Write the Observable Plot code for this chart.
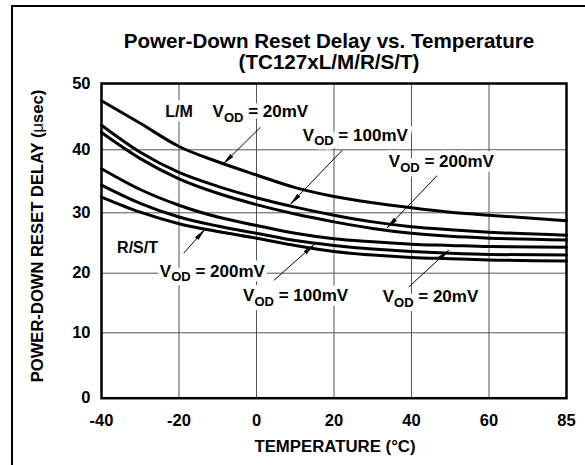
<!DOCTYPE html>
<html>
<head>
<meta charset="utf-8">
<script src="https://cdn.jsdelivr.net/npm/d3@7"></script>
<script src="https://cdn.jsdelivr.net/npm/@observablehq/plot@0.6"></script>
<style>
  body { margin: 0; background: #fff; }
  #wrap { position: relative; width: 585px; height: 465px; overflow: hidden;
          font-family: "Liberation Sans", Arial, Helvetica, sans-serif; color: #000; }
  #border { position: absolute; left: 11px; top: 5px; width: 700px; height: 600px;
            border-top: 2.5px solid #000; border-left: 2.5px solid #000; }
  #chart { position: absolute; left: 0; top: 0; }
  #title { position: absolute; left: 80px; width: 500px; top: 30px; text-align: center; margin-left: -1px;
           font-weight: bold; font-size: 20.6px; line-height: 21px; }
  #ylab { position: absolute; left: 38px; top: 236px; transform: translate(-50%, -50%) rotate(-90deg);
          white-space: nowrap; font-weight: bold; font-size: 16.6px; line-height: 16px; }
  #xlab { position: absolute; left: 335px; top: 447px; transform: translate(-50%, -50%);
          white-space: nowrap; font-weight: bold; font-size: 16.8px; line-height: 16px; }
</style>
</head>
<body>
<div id="wrap">
  <div id="border"></div>
  <div id="chart"></div>
  <div id="title">Power-Down Reset Delay vs. Temperature<br>(TC127xL/M/R/S/T)</div>
  <div id="ylab">POWER-DOWN RESET DELAY (<span style="font-weight:normal">μ</span>sec)</div>
  <div id="xlab">TEMPERATURE (°C)</div>
</div>
<script>
// ---- data ----
const temps = [-40, -30, -20, -10, 0, 10, 20, 30, 40, 50, 60, 85];
const lm20   = [47.4, 44.0, 40.5, 38.1, 36.0, 34.0, 32.6, 31.6, 30.8, 30.1, 29.6, 28.7];
const lm100  = [43.7, 39.6, 36.4, 34.2, 32.4, 30.9, 29.6, 28.5, 27.7, 27.2, 26.8, 26.3];
const lm200  = [42.6, 38.6, 35.4, 33.1, 31.3, 29.8, 28.5, 27.4, 26.6, 26.1, 25.8, 25.5];
const rst20  = [37.0, 33.7, 31.2, 29.3, 27.9, 26.6, 25.7, 25.2, 24.8, 24.6, 24.4, 24.3];
const rst100 = [34.4, 31.5, 29.3, 27.8, 26.6, 25.4, 24.6, 24.0, 23.6, 23.3, 23.1, 23.0];
const rst200 = [32.5, 30.1, 28.2, 26.9, 25.8, 24.6, 23.6, 23.0, 22.6, 22.4, 22.2, 22.0];
const seriesNames = ["L/M 20mV", "L/M 100mV", "L/M 200mV", "R/S/T 20mV", "R/S/T 100mV", "R/S/T 200mV"];
const seriesValues = [lm20, lm100, lm200, rst20, rst100, rst200];

const xTicks = [-40, -20, 0, 20, 40, 60, 85];
const yTicks = [0, 10, 20, 30, 40, 50];

// annotation labels (data coordinates, baseline)
const groupText = ["L/M", "R/S/T"];
const groupX = [-20, -30.7];
const groupY = [44.9, 23.4];
const vodText = ["VOD = 20mV", "VOD = 100mV", "VOD = 200mV", "VOD = 200mV", "VOD = 100mV", "VOD = 20mV"];
const vodX = [1.0, 25.5, 47.7, -11.4, 10.1, 44.9];
const vodY = [44.9, 41.4, 37.2, 19.4, 15.3, 15.1];
// arrows (from label to curve)
const arrowX1 = [1.0, 22.1, 46.6, -18.8, 4.5, 39.3];
const arrowY1 = [43.4, 39.9, 35.9, 23.3, 18.8, 17.7];
const arrowX2 = [-8.5, 8.8, 33.7, -13.4, 14.8, 49.6];
const arrowY2 = [37.8, 31.4, 27.5, 27.2, 24.7, 23.8];

// ---- build tables ----
const rows = [];
seriesValues.forEach((vals, s) => temps.forEach((t, i) => rows.push({temp: t, delay: vals[i], series: seriesNames[s]})));
const groups = groupText.map((t, i) => ({text: t, x: groupX[i], y: groupY[i]}));
const vods = vodText.map((t, i) => ({text: t, x: vodX[i], y: vodY[i]}));
const arrows = arrowX1.map((d, i) => ({x1: arrowX1[i], y1: arrowY1[i], x2: arrowX2[i], y2: arrowY2[i]}));

const W = 585, H = 465, mL = 101, mR = 19, mT = 83, mB = 67.3;
const font = "'Liberation Sans', Arial, Helvetica, sans-serif";

const chart = Plot.plot({
  width: W, height: H,
  marginLeft: mL, marginRight: mR, marginTop: mT, marginBottom: mB,
  style: {background: "transparent", fontFamily: font, fontSize: "16.5px", fontWeight: "bold", color: "#000"},
  x: {type: "linear", domain: xTicks,
      range: xTicks.map((d, i) => mL + i * (W - mL - mR) / (xTicks.length - 1)),
      ticks: xTicks, tickSize: 0, tickPadding: 16, label: null, tickFormat: d => String(d)},
  y: {type: "linear", domain: yTicks, range: [397.7, 332.3, 272.7, 212.3, 149.3, 83],
      ticks: yTicks, tickSize: 0, tickPadding: 11, label: null, tickFormat: d => String(d)},
  marks: [
    Plot.ruleX(xTicks, {stroke: "#555", strokeWidth: 1}),
    Plot.ruleY(yTicks, {stroke: "#555", strokeWidth: 1}),
    Plot.line(rows, {x: "temp", y: "delay", z: "series", stroke: "black", strokeWidth: 3, curve: "monotone-x"}),
    Plot.text(groups, {x: "x", y: "y", text: "text", fontSize: 16, fontWeight: "bold", fill: "black",
      lineAnchor: "bottom", stroke: "white", strokeWidth: 9, paintOrder: "stroke", strokeLinejoin: "round"}),
    Plot.text(vods, {x: "x", y: "y", text: "text", fontSize: 17, fontWeight: "bold", fill: "black",
      lineAnchor: "bottom", stroke: "white", strokeWidth: 9, paintOrder: "stroke", strokeLinejoin: "round"}),
    Plot.link(arrows, {x1: "x1", y1: "y1", x2: "x2", y2: "y2", stroke: "black", strokeWidth: 1, markerEnd: "arrow"}),
    Plot.frame({stroke: "black", strokeWidth: 2.5})
  ]
});

// subscript "OD" in the V_OD labels
const ns = "http://www.w3.org/2000/svg";
chart.querySelectorAll("text").forEach(t => {
  const s = t.textContent;
  if (s.startsWith("VOD")) {
    t.textContent = "V";
    const sub = document.createElementNS(ns, "tspan");
    sub.setAttribute("dy", "4.5"); sub.setAttribute("font-size", "13"); sub.textContent = "OD";
    const rest = document.createElementNS(ns, "tspan");
    rest.setAttribute("dy", "-4.5"); rest.textContent = s.slice(3);
    t.appendChild(sub); t.appendChild(rest);
  }
});
// filled, narrow arrowheads
chart.querySelectorAll("marker").forEach(m => {
  m.setAttribute("viewBox", "-12 -3 13 6");
  m.setAttribute("markerWidth", "13");
  m.setAttribute("markerHeight", "6");
  m.setAttribute("markerUnits", "userSpaceOnUse");
  m.setAttribute("fill", "black");
  m.setAttribute("stroke", "none");
  m.innerHTML = "";
  const p = document.createElementNS(ns, "path");
  p.setAttribute("d", "M-12,-2.2L1,0L-12,2.2Z");
  p.setAttribute("fill", "black");
  m.appendChild(p);
});
document.getElementById("chart").appendChild(chart);
</script>
</body>
</html>
